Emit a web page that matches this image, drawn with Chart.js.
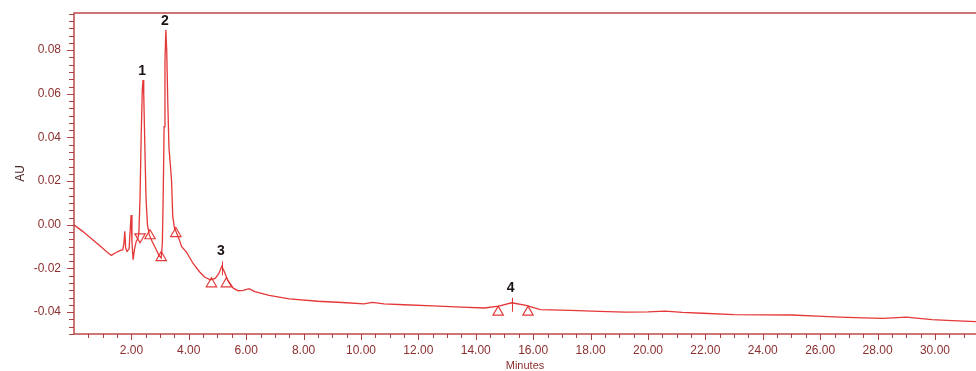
<!DOCTYPE html>
<html>
<head>
<meta charset="utf-8">
<script src="https://cdn.jsdelivr.net/npm/chart.js@4.4.1/dist/chart.umd.min.js"></script>
<style>
  html, body { margin: 0; padding: 0; background: #ffffff; }
  #wrap { width: 976px; height: 371px; position: relative; }
</style>
</head>
<body>
<div id="wrap"><canvas id="chrom" width="976" height="371"></canvas></div>
<script>
// Chromatogram trace: retention time (min) and detector response (AU)
const times = [
  0.00, 0.30, 0.60, 0.90, 1.15, 1.30, 1.45, 1.60, 1.70, 1.74,
  1.77, 1.80, 1.85, 1.92, 1.96, 1.99, 2.02, 2.06, 2.11, 2.17,
  2.22, 2.26, 2.30, 2.34, 2.38, 2.405, 2.43, 2.47, 2.51, 2.56,
  2.62, 2.72, 2.85, 2.96, 3.04, 3.08, 3.11, 3.14, 3.17, 3.20,
  3.23, 3.27, 3.31, 3.36, 3.40, 3.44, 3.50, 3.57, 3.66, 3.75,
  3.92, 4.15, 4.38, 4.56, 4.75, 4.92, 5.04, 5.15, 5.24, 5.36,
  5.55, 5.72, 5.90, 6.10, 6.30, 6.80, 7.50, 8.50, 9.50, 10.10,
  10.40, 10.80, 11.50, 12.50, 13.50, 14.30, 14.80, 15.25, 15.75, 16.25,
  17.30, 18.30, 19.20, 20.00, 20.60, 21.20, 21.90, 23.00, 24.00, 25.00,
  25.90, 26.70, 27.50, 28.20, 29.00, 29.90, 30.60, 31.43
];
const absorbance = [
  0.0000, -0.0030, -0.0063, -0.0096, -0.0124, -0.0140, -0.0128, -0.0118, -0.0114, -0.0085,
  -0.0030, -0.0105, -0.0122, -0.0110, -0.0020, 0.0045, -0.0080, -0.0160, -0.0110, -0.0075,
  -0.0065, -0.0040, 0.0120, 0.0400, 0.0620, 0.0663, 0.0600, 0.0350, 0.0120, 0.0000,
  -0.0045, -0.0075, -0.0110, -0.0140, -0.0152, -0.0080, 0.0150, 0.0450, 0.0750, 0.0892,
  0.0800, 0.0550, 0.0350, 0.0270, 0.0200, 0.0040, -0.0015, -0.0035, -0.0065, -0.0100,
  -0.0125, -0.0177, -0.0216, -0.0240, -0.0252, -0.0245, -0.0225, -0.0190, -0.0215, -0.0255,
  -0.0290, -0.0302, -0.0300, -0.0292, -0.0306, -0.0323, -0.0339, -0.0350, -0.0357, -0.0362,
  -0.0355, -0.0362, -0.0366, -0.0371, -0.0377, -0.0381, -0.0372, -0.0357, -0.0369, -0.0388,
  -0.0392, -0.0396, -0.0400, -0.0399, -0.0395, -0.0401, -0.0405, -0.0411, -0.0412, -0.0413,
  -0.0418, -0.0423, -0.0426, -0.0428, -0.0423, -0.0434, -0.0439, -0.0443
];

// Integration start/end markers
const markerTimes  = [2.30, 2.65, 3.04, 3.55, 4.79, 5.31, 14.78, 15.82];
const markerValues = [-0.0055, -0.0050, -0.0150, -0.0040, -0.0270, -0.0270, -0.0400, -0.0400];

// Named peaks (apex retention times, looked up in the trace)
const peakNames = ['1', '2', '3', '4'];
const peakTimes = [2.405, 3.20, 5.15, 15.25];

// Axis tick labels
const xTickValues = [2, 4, 6, 8, 10, 12, 14, 16, 18, 20, 22, 24, 26, 28, 30];
const yTickValues = [-0.04, -0.02, 0.00, 0.02, 0.04, 0.06, 0.08];

const X_MIN = 0, X_MAX = 31.43;
const Y_MIN = -0.05, Y_MAX = 0.097;

const LABEL_COLOR = '#8c2f2f';
const AXIS_COLOR = '#c04848';
const TRACE_COLOR = 'rgba(228, 44, 44, 0.95)';

// Frame, minor/major tick marks and peak annotations
const decorations = {
  id: 'decorations',
  afterDatasetsDraw(chart) {
    const { ctx, chartArea: a, scales: { x, y } } = chart;
    ctx.save();

    // frame: top, left and bottom lines
    ctx.strokeStyle = AXIS_COLOR;
    ctx.lineWidth = 1.5;
    ctx.beginPath();
    ctx.moveTo(a.right, a.top);
    ctx.lineTo(a.left, a.top);
    ctx.lineTo(a.left, a.bottom);
    ctx.lineTo(a.right, a.bottom);
    ctx.stroke();

    // x ticks every 0.5 min, longer at labelled values
    ctx.lineWidth = 1;
    ctx.strokeStyle = '#a84444';
    ctx.beginPath();
    for (let i = 1; i * 0.5 <= X_MAX; i++) {
      const px = Math.round(x.getPixelForValue(i * 0.5)) + 0.5;
      const len = (i % 4 === 0) ? 6 : 4;
      ctx.moveTo(px, a.bottom);
      ctx.lineTo(px, a.bottom + len);
    }
    // y ticks, six per labelled interval
    const step = 0.02 / 6;
    for (let k = Math.ceil(Y_MIN / step); k * step <= Y_MAX; k++) {
      const py = Math.round(y.getPixelForValue(k * step)) + 0.5;
      const len = (k % 6 === 0) ? 7 : 5;
      ctx.moveTo(a.left, py);
      ctx.lineTo(a.left - len, py);
    }
    ctx.stroke();

    // peak numbers above each apex
    ctx.fillStyle = '#1c1414';
    ctx.font = 'bold 14px "Liberation Sans", Arial, sans-serif';
    ctx.textAlign = 'center';
    ctx.textBaseline = 'bottom';
    peakTimes.forEach((t, i) => {
      const idx = times.indexOf(t);
      const v = absorbance[idx];
      const px = x.getPixelForValue(t);
      const py = y.getPixelForValue(v);
      const small = v < 0;
      const gap = small ? 8 : 2;
      ctx.fillText(peakNames[i], px - 1, py - gap);
      if (small) {
        ctx.strokeStyle = TRACE_COLOR;
        ctx.lineWidth = 1;
        ctx.beginPath();
        ctx.moveTo(Math.round(px) + 0.5, py - 5);
        ctx.lineTo(Math.round(px) + 0.5, py + 9);
        ctx.stroke();
      }
    });
    ctx.restore();
  }
};

const noEdgePadding = s => {
  s.paddingLeft = 0; s.paddingRight = 0; s.paddingTop = 0; s.paddingBottom = 0;
};

new Chart(document.getElementById('chrom'), {
  type: 'scatter',
  data: {
    datasets: [
      {
        type: 'line',
        data: times.map((t, i) => ({ x: t, y: absorbance[i] })),
        borderColor: TRACE_COLOR,
        borderWidth: 1.3,
        pointRadius: 0,
        tension: 0,
        fill: false,
        order: 2
      },
      {
        type: 'scatter',
        data: markerTimes.map((t, i) => ({ x: t, y: markerValues[i] })),
        pointStyle: 'triangle',
        pointRadius: 6,
        pointRotation: [180, 0, 0, 0, 0, 0, 0, 0],
        borderColor: 'rgba(226, 50, 50, 0.95)',
        borderWidth: 1.2,
        backgroundColor: 'rgba(255,255,255,0)',
        order: 1
      }
    ]
  },
  options: {
    responsive: false,
    animation: false,
    devicePixelRatio: 1,
    layout: { autoPadding: false, padding: { top: 13, left: 0, right: 0, bottom: 0 } },
    plugins: { legend: { display: false }, tooltip: { enabled: false } },
    scales: {
      x: {
        type: 'linear',
        min: X_MIN,
        max: X_MAX,
        afterFit: s => { s.height = 37; noEdgePadding(s); },
        afterBuildTicks: s => { s.ticks = xTickValues.map(v => ({ value: v })); },
        grid: { display: false, drawTicks: false },
        border: { display: false },
        ticks: {
          padding: 9,
          maxRotation: 0,
          autoSkip: false,
          color: LABEL_COLOR,
          font: { family: '"Liberation Sans", Arial, sans-serif', size: 12 },
          callback: v => v.toFixed(2)
        },
        title: {
          display: true,
          text: 'Minutes',
          color: LABEL_COLOR,
          font: { family: '"Liberation Sans", Arial, sans-serif', size: 11, lineHeight: 1 },
          padding: { top: 0, bottom: 0 }
        }
      },
      y: {
        type: 'linear',
        min: Y_MIN,
        max: Y_MAX,
        afterFit: s => { s.width = 74; noEdgePadding(s); },
        afterBuildTicks: s => { s.ticks = yTickValues.map(v => ({ value: v })); },
        grid: { display: false, drawTicks: false },
        border: { display: false },
        ticks: {
          padding: 13,
          autoSkip: false,
          color: LABEL_COLOR,
          font: { family: '"Liberation Sans", Arial, sans-serif', size: 12 },
          callback: v => v.toFixed(2)
        },
        title: {
          display: true,
          text: 'AU',
          color: '#4a2424',
          font: { family: '"Liberation Sans", Arial, sans-serif', size: 12 },
          padding: { top: 13, bottom: 0 }
        }
      }
    }
  },
  plugins: [decorations]
});
</script>
</body>
</html>
